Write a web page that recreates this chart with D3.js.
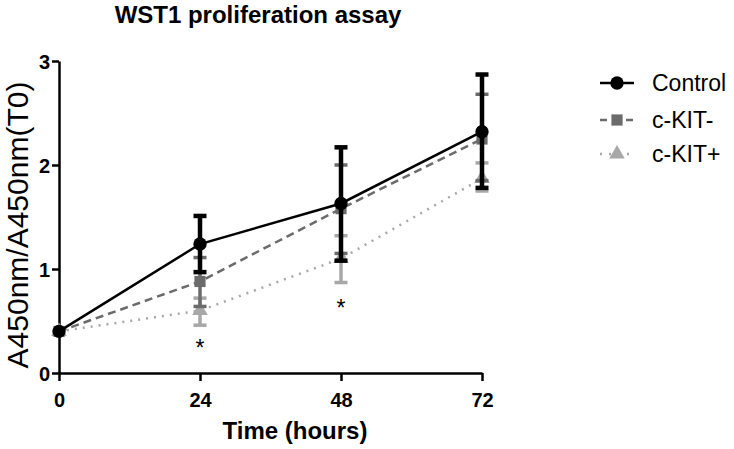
<!DOCTYPE html>
<html><head><meta charset="utf-8">
<script src="https://cdn.jsdelivr.net/npm/d3@7"></script>
<style>body{margin:0;background:#fff}svg{display:block;font-family:Arial,"Liberation Sans",sans-serif}</style>
</head><body><svg id="c" width="734" height="449"></svg>
<script>
const times = [0, 24, 48, 72];
const xTicks = [0, 24, 48, 72];
const yTicks = [0, 1, 2, 3];
const seriesNames = ["Control", "c-KIT-", "c-KIT+"];
const controlMean = [0.40, 1.24, 1.63, 2.32];
const controlHi   = [0.40, 1.51, 2.17, 2.87];
const controlLo   = [0.40, 0.97, 1.08, 1.78];
const kitNegMean = [0.40, 0.88, 1.58, 2.25];
const kitNegHi   = [0.40, 1.11, 2.00, 2.68];
const kitNegLo   = [0.40, 0.64, 1.15, 1.85];
const kitPosMean = [0.40, 0.60, 1.10, 1.87];
const kitPosHi   = [0.40, 0.72, 1.32, 2.02];
const kitPosLo   = [0.40, 0.46, 0.87, 1.75];
const starTimes = [24, 48];
const starValues = [0.29, 0.67];

const FONT = "Arial, 'Liberation Sans', sans-serif";
const svg = d3.select("#c");
const x = d3.scaleLinear().domain([0, 72]).range([59, 482]);
const y = d3.scaleLinear().domain([0, 3]).range([373, 61]);

const series = [
  {name: seriesNames[0], mean: controlMean, hi: controlHi, lo: controlLo, color: "#000", dash: null, lw: 2.5, ew: 4.5, marker: "circle"},
  {name: seriesNames[1], mean: kitNegMean, hi: kitNegHi, lo: kitNegLo, color: "#6b6b6b", dash: "8,5", lw: 2.5, ew: 3.5, marker: "square"},
  {name: seriesNames[2], mean: kitPosMean, hi: kitPosHi, lo: kitPosLo, color: "#a8a8a8", dash: "2,6", lw: 2.5, ew: 3.5, marker: "triangle"}
];

// axes
const xAxis = svg.append("g").attr("transform", "translate(0,373)")
  .call(d3.axisBottom(x).tickValues(xTicks).tickFormat(d3.format("d")).tickSize(8).tickSizeOuter(0));
const yAxis = svg.append("g").attr("transform", "translate(59,0)")
  .call(d3.axisLeft(y).tickValues(yTicks).tickFormat(d3.format("d")).tickSize(7).tickSizeOuter(0));
[xAxis, yAxis].forEach(a => {
  a.attr("font-size", null).attr("font-family", null);
  a.select(".domain").attr("stroke", "#000").attr("stroke-width", 2.5);
  a.selectAll(".tick line").attr("stroke", "#000").attr("stroke-width", 2.5);
  a.selectAll("text").attr("fill", "#000").style("font-size", "20px").style("font-weight", "bold")
    .style("font-family", FONT);
});
xAxis.selectAll("text").attr("dy", null).attr("y", 34);
yAxis.selectAll("text").attr("x", -9).attr("dy", "0.36em");

const markerPath = (m) => {
  if (m === "circle") return d3.symbol(d3.symbolCircle, 140)();
  if (m === "square") return d3.symbol(d3.symbolSquare, 125)();
  return d3.symbol(d3.symbolTriangle, 105)();
};

const line = d3.line().x((d, i) => x(times[i])).y(d => y(d));
// draw in reverse so control on top
series.slice().reverse().forEach(s => {
  const g = svg.append("g");
  g.append("path").attr("d", line(s.mean)).attr("fill", "none").attr("stroke", s.color)
    .attr("stroke-width", s.lw).attr("stroke-dasharray", s.dash);
  times.forEach((t, i) => {
    if (s.hi[i] === s.lo[i]) return;
    g.append("line").attr("x1", x(t)).attr("x2", x(t)).attr("y1", y(s.hi[i])).attr("y2", y(s.lo[i]))
      .attr("stroke", s.color).attr("stroke-width", s.ew);
    [s.hi[i], s.lo[i]].forEach(v => g.append("line").attr("x1", x(t) - 6.5).attr("x2", x(t) + 6.5)
      .attr("y1", y(v)).attr("y2", y(v)).attr("stroke", s.color).attr("stroke-width", s.ew));
  });
  g.selectAll(".m").data(s.mean).join("path")
    .attr("d", markerPath(s.marker))
    .attr("transform", (d, i) => `translate(${x(times[i])},${y(d)})`)
    .attr("fill", s.color);
});

// asterisks
svg.selectAll(".star").data(starTimes).join("text")
  .attr("x", d => x(d)).attr("y", (d, i) => y(starValues[i]) + 13)
  .attr("text-anchor", "middle").style("font-size", "23px").style("font-family", FONT).attr("fill", "#000").text("*");

// titles
svg.append("text").attr("x", 258).attr("y", 23).attr("text-anchor", "middle")
  .style("font-size", "24px").style("font-weight", "bold").style("font-family", FONT).text("WST1 proliferation assay");
svg.append("text").attr("x", 295).attr("y", 439).attr("text-anchor", "middle")
  .style("font-size", "24px").style("font-weight", "bold").style("font-family", FONT).text("Time (hours)");
svg.append("text").attr("transform", "translate(28,225) rotate(-90)").attr("text-anchor", "middle")
  .style("font-size", "30px").style("font-family", FONT).text("A450nm/A450nm(T0)");

// legend
const leg = svg.append("g");
series.forEach((s, i) => {
  const ly = [83, 120, 154][i];
  leg.append("line").attr("x1", 600).attr("x2", 634).attr("y1", ly).attr("y2", ly)
    .attr("stroke", s.color).attr("stroke-width", s.lw).attr("stroke-dasharray", s.dash ? (i === 1 ? "7,6" : "2,7") : null);
  leg.append("path").attr("d", markerPath(s.marker)).attr("transform", `translate(617,${ly})`).attr("fill", s.color);
  leg.append("text").attr("x", 652).attr("y", ly + 8).style("font-size", "23px").style("font-family", FONT).attr("fill", "#000").text(s.name);
});
</script></body></html>
